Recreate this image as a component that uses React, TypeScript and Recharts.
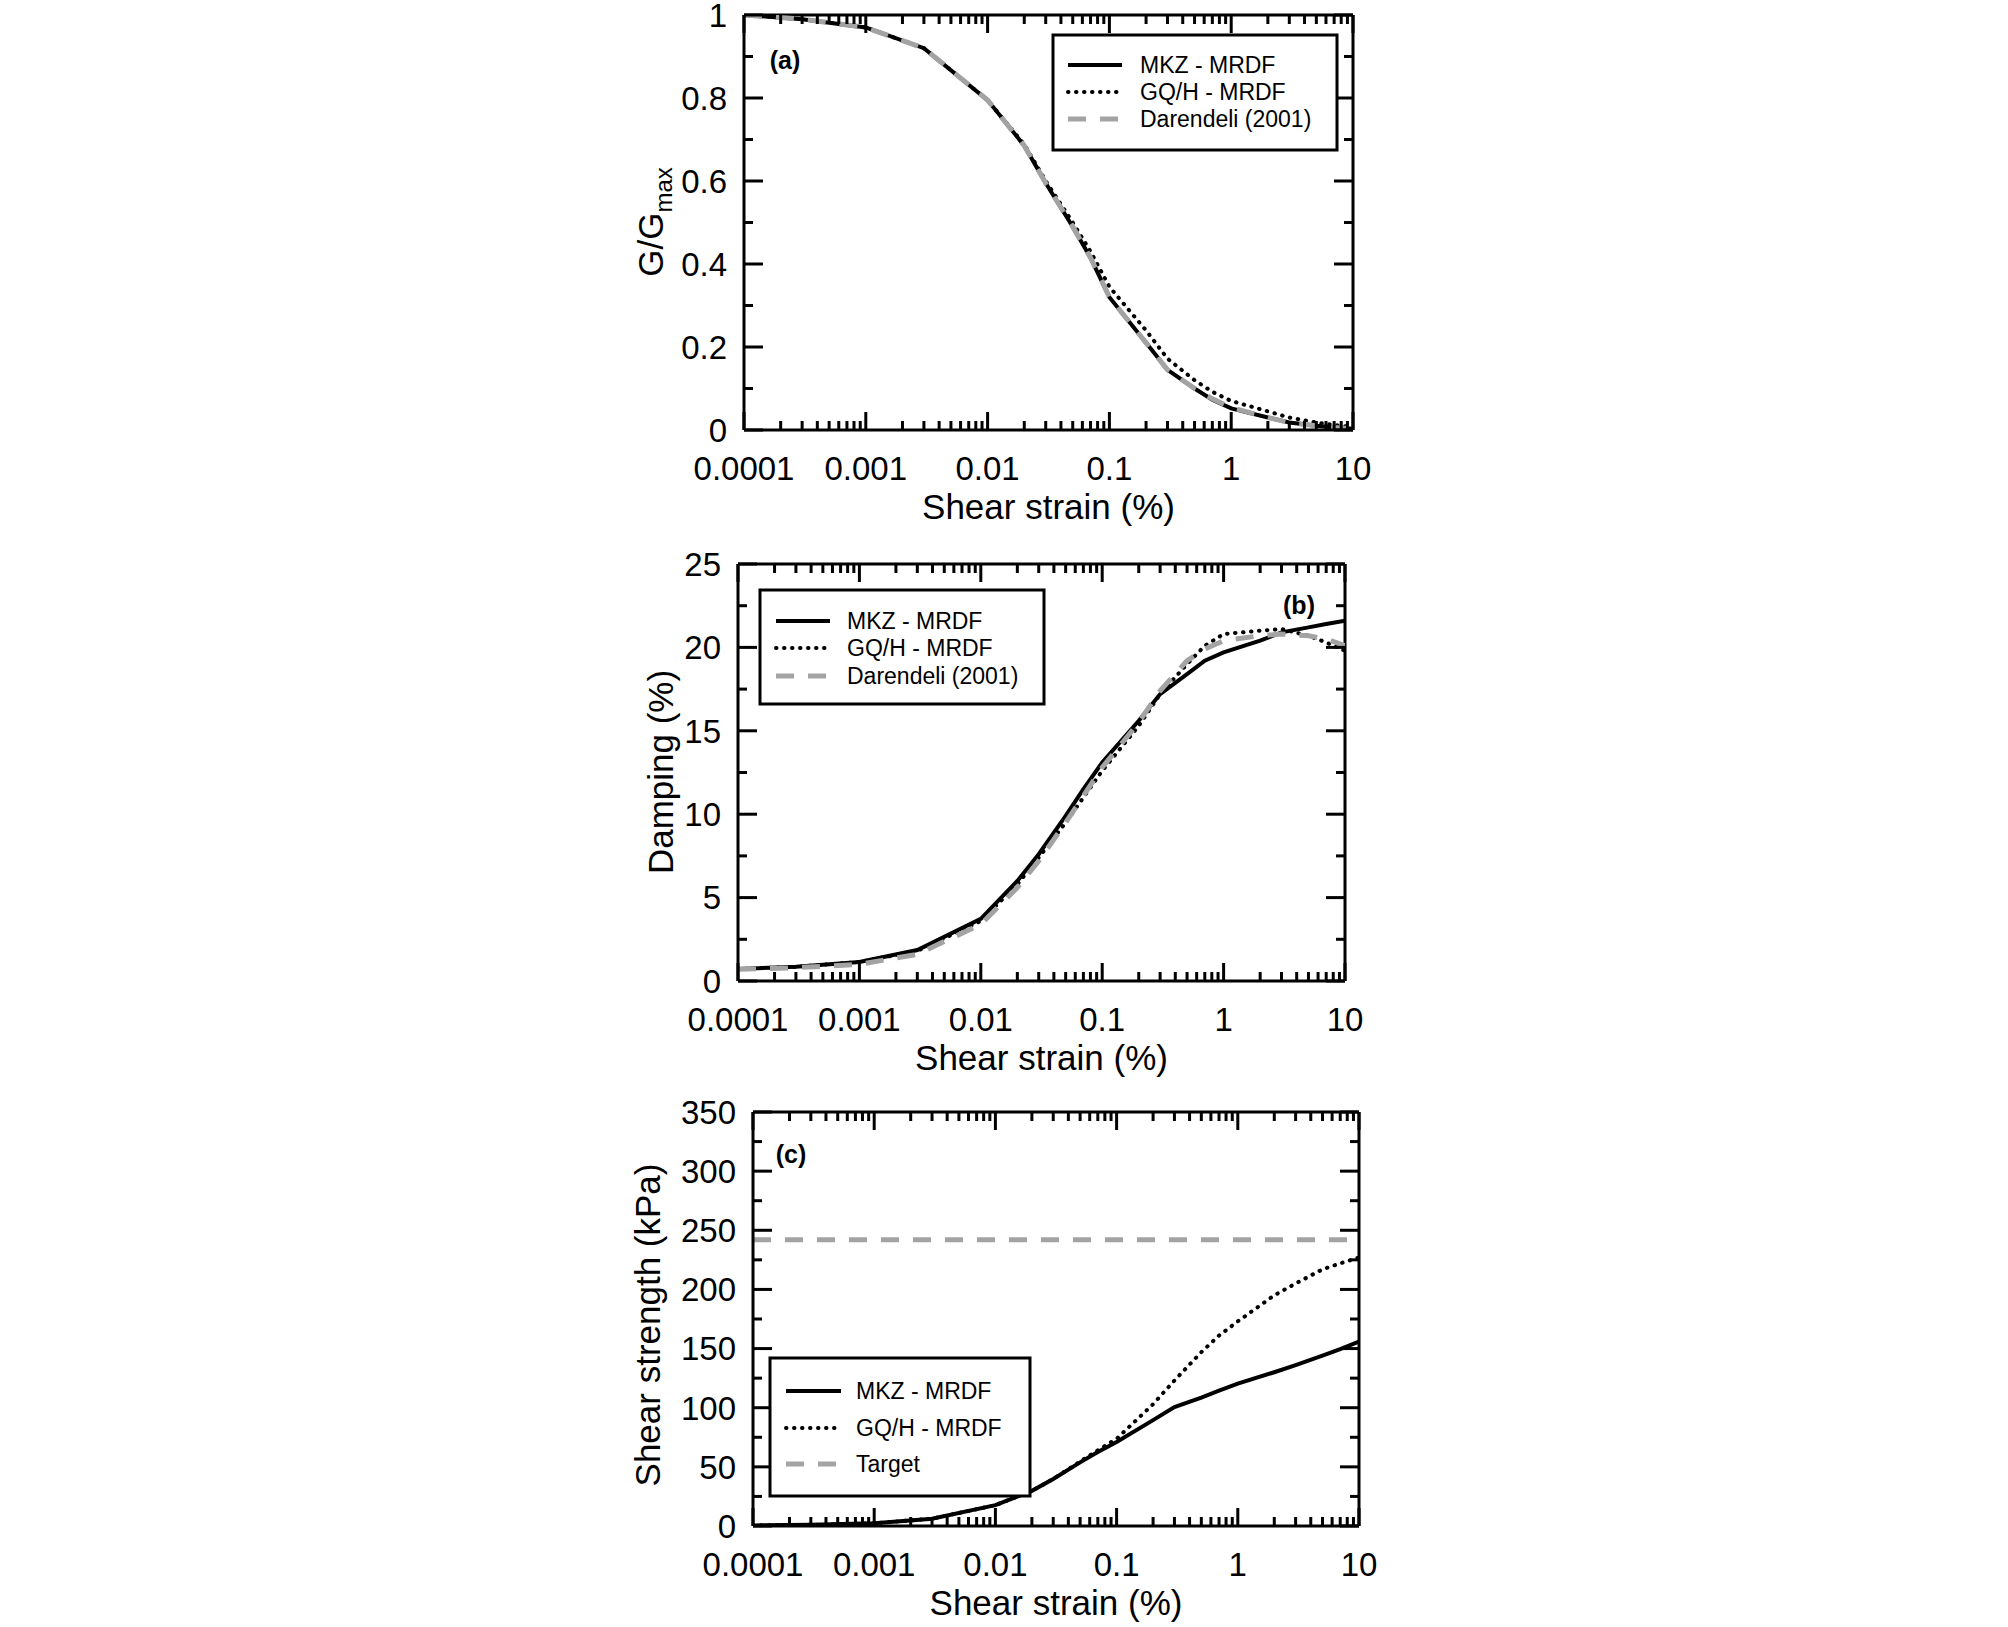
import React from 'react';
import { LineChart, Line, XAxis, YAxis, ReferenceLine } from 'recharts';

// shear strain (%) grid shared by every curve
const STRAIN = [0.0001, 0.0003, 0.001, 0.003, 0.01, 0.02, 0.03, 0.05, 0.07, 0.1, 0.2, 0.3, 0.5, 0.7, 1, 2, 3, 5, 7, 10];

// (a) G/Gmax
const GG_MKZ = [1.0, 0.99, 0.97, 0.92, 0.795, 0.685, 0.595, 0.49, 0.415, 0.32, 0.21, 0.145, 0.1, 0.073, 0.052, 0.03, 0.018, 0.01, 0.006, 0.003];
const GG_GQH = [1.0, 0.99, 0.97, 0.92, 0.795, 0.688, 0.6, 0.5, 0.43, 0.345, 0.24, 0.172, 0.12, 0.092, 0.07, 0.045, 0.03, 0.018, 0.012, 0.007];
const GG_DAR = [1.0, 0.99, 0.97, 0.92, 0.795, 0.685, 0.595, 0.49, 0.415, 0.32, 0.21, 0.145, 0.1, 0.075, 0.054, 0.03, 0.018, 0.01, 0.006, 0.003];

// (b) damping (%)
const DAMP_MKZ = [0.72, 0.85, 1.14, 1.86, 3.73, 6.0, 7.6, 9.9, 11.5, 13.1, 15.6, 17.2, 18.4, 19.2, 19.7, 20.4, 20.9, 21.2, 21.4, 21.6];
const DAMP_GQH = [0.72, 0.85, 1.14, 1.8, 3.6, 5.8, 7.4, 9.5, 11.0, 12.6, 15.3, 17.2, 19.0, 20.1, 20.8, 21.0, 21.1, 20.7, 20.3, 19.8];
const DAMP_DAR = [0.7, 0.8, 1.0, 1.6, 3.4, 5.6, 7.2, 9.5, 11.1, 12.8, 15.5, 17.4, 19.2, 19.9, 20.4, 20.7, 20.8, 20.7, 20.5, 20.1];

// (c) shear strength (kPa)
const TAU_MKZ = [0.5, 1.0, 2.3, 6.2, 17.6, 29.7, 39.7, 53.8, 62.5, 71, 89.5, 100.6, 108.5, 114.5, 120.4, 130, 136, 144, 149.5, 155.8];
const TAU_GQH = [0.5, 1.0, 2.3, 6.2, 17.6, 29.7, 39.7, 54.5, 64, 73.7, 103, 123, 147, 161, 173, 195, 205, 217, 222, 227];
const TAU_TARGET = 242;

const X_MAJOR = [0.0001, 0.001, 0.01, 0.1, 1, 10];
const X_LABELS = ['0.0001', '0.001', '0.01', '0.1', '1', '10'];

const GG_TICKS = [0, 0.1, 0.2, 0.3, 0.4, 0.5, 0.6, 0.7, 0.8, 0.9, 1];
const GG_LABELS = ['0', '0.2', '0.4', '0.6', '0.8', '1'];
const DAMP_TICKS = [0, 2.5, 5, 7.5, 10, 12.5, 15, 17.5, 20, 22.5, 25];
const DAMP_LABELS = ['0', '5', '10', '15', '20', '25'];
const TAU_TICKS = [0, 25, 50, 75, 100, 125, 150, 175, 200, 225, 250, 275, 300, 325, 350];
const TAU_LABELS = ['0', '50', '100', '150', '200', '250', '300', '350'];

// log ticks: 1..9 in every decade, plus the last decade
const X_TICKS: number[] = [];
X_MAJOR.slice(0, -1).forEach((d) => {
  for (let m = 1; m <= 9; m++) X_TICKS.push(Number((m * d).toPrecision(6)));
});
X_TICKS.push(10);

const W = 2008;
const H = 1627;
const FONT = '"Liberation Sans", Arial, Helvetica, sans-serif';

const BLACK = '#000';
const GREY = '#a3a3a3';

type Box = { left: number; right: number; top: number; bottom: number };

const BOX_A: Box = { left: 744, right: 1353, top: 15, bottom: 430 };
const BOX_B: Box = { left: 738, right: 1345, top: 564, bottom: 981 };
const BOX_C: Box = { left: 753, right: 1359, top: 1112, bottom: 1526 };

const rowsA = STRAIN.map((x, i) => ({ x, mkz: GG_MKZ[i], gqh: GG_GQH[i], dar: GG_DAR[i] }));
const rowsB = STRAIN.map((x, i) => ({ x, mkz: DAMP_MKZ[i], gqh: DAMP_GQH[i], dar: DAMP_DAR[i] }));
const rowsC = STRAIN.map((x, i) => ({ x, mkz: TAU_MKZ[i], gqh: TAU_GQH[i], tgt: TAU_TARGET }));

const STYLES: Record<string, any> = {
  solid: { stroke: BLACK, strokeWidth: 4 },
  dotted: { stroke: BLACK, strokeWidth: 4, strokeDasharray: '0.5 7.5', strokeLinecap: 'round' },
  dashed: { stroke: GREY, strokeWidth: 5, strokeDasharray: '18 14' },
};

const isDecade = (v: number) => Math.abs(Math.log10(v) - Math.round(Math.log10(v))) < 1e-6;

const XTick = (props: any) => {
  const { x, payload, box } = props;
  const v = payload.value;
  const major = isDecade(v);
  const len = major ? 18 : 9;
  const li = X_MAJOR.findIndex((m) => Math.abs(m - v) / m < 1e-6);
  return (
    <g>
      <line x1={x} x2={x} y1={box.bottom} y2={box.bottom - len} stroke={BLACK} strokeWidth={3} />
      <line x1={x} x2={x} y1={box.top} y2={box.top + len} stroke={BLACK} strokeWidth={3} />
      {major && li >= 0 && (
        <text x={x} y={box.bottom + 50} textAnchor="middle" fontSize={33} fontFamily={FONT} fill={BLACK}>
          {X_LABELS[li]}
        </text>
      )}
    </g>
  );
};

const YTick = (props: any) => {
  const { y, index, box, labels } = props;
  const major = index % 2 === 0;
  const len = major ? 19 : 9;
  return (
    <g>
      <line x1={box.left} x2={box.left + len} y1={y} y2={y} stroke={BLACK} strokeWidth={3} />
      <line x1={box.right} x2={box.right - len} y1={y} y2={y} stroke={BLACK} strokeWidth={3} />
      {major && (
        <text x={box.left - 17} y={y} dy="0.36em" textAnchor="end" fontSize={33} fontFamily={FONT} fill={BLACK}>
          {labels[index / 2]}
        </text>
      )}
    </g>
  );
};

type Series = { key: string; style: string };

function Panel({ box, rows, series, yTicks, yLabels, yMax }: { box: Box; rows: any[]; series: Series[]; yTicks: number[]; yLabels: string[]; yMax: number }) {
  const YW = 100;
  const XH = 60;
  return (
    <div style={{ position: 'absolute', left: 0, top: 0 }}>
      <LineChart
        width={W}
        height={H}
        data={rows}
        margin={{ top: box.top, right: W - box.right, bottom: H - box.bottom - XH, left: box.left - YW }}
      >
        <XAxis
          dataKey="x"
          type="number"
          scale="log"
          domain={[0.0001, 10]}
          allowDataOverflow
          ticks={X_TICKS}
          interval={0}
          height={XH}
          tickSize={0}
          tickMargin={0}
          tickLine={false}
          axisLine={{ stroke: BLACK, strokeWidth: 3 }}
          tick={(p: any) => <XTick {...p} box={box} />}
        />
        <YAxis
          type="number"
          domain={[0, yMax]}
          allowDataOverflow
          ticks={yTicks}
          interval={0}
          width={YW}
          tickSize={0}
          tickMargin={0}
          tickLine={false}
          axisLine={{ stroke: BLACK, strokeWidth: 3 }}
          tick={(p: any) => <YTick {...p} box={box} labels={yLabels} />}
        />
        <ReferenceLine y={yMax} stroke={BLACK} strokeWidth={3} ifOverflow="visible" />
        <ReferenceLine x={10} stroke={BLACK} strokeWidth={3} ifOverflow="visible" />
        {series.map((s) => (
          <Line
            key={s.key}
            dataKey={s.key}
            type="linear"
            dot={false}
            activeDot={false}
            isAnimationActive={false}
            {...STYLES[s.style]}
          />
        ))}
      </LineChart>
    </div>
  );
}

type LegendItem = { label: string; style: string };

function LegendBox({ x, y, w, h, rows, lineX, textX, items }: { x: number; y: number; w: number; h: number; rows: number[]; lineX: [number, number]; textX: number; items: LegendItem[] }) {
  return (
    <g>
      <rect x={x} y={y} width={w} height={h} fill="#fff" stroke={BLACK} strokeWidth={3} />
      {items.map((it, i) => (
        <g key={it.label}>
          <line x1={x + lineX[0]} x2={x + lineX[1]} y1={y + rows[i]} y2={y + rows[i]} {...STYLES[it.style]} />
          <text x={x + textX} y={y + rows[i] + 8} fontSize={23} fontFamily={FONT} fill={BLACK}>
            {it.label}
          </text>
        </g>
      ))}
    </g>
  );
}

const ITEMS_AB: LegendItem[] = [
  { label: 'MKZ - MRDF', style: 'solid' },
  { label: 'GQ/H - MRDF', style: 'dotted' },
  { label: 'Darendeli (2001)', style: 'dashed' },
];
const ITEMS_C: LegendItem[] = [
  { label: 'MKZ - MRDF', style: 'solid' },
  { label: 'GQ/H - MRDF', style: 'dotted' },
  { label: 'Target', style: 'dashed' },
];

const XTitle = ({ box }: { box: Box }) => (
  <text x={(box.left + box.right) / 2} y={box.bottom + 89} textAnchor="middle" fontSize={35} fontFamily={FONT} fill={BLACK}>
    Shear strain (%)
  </text>
);

export default function App() {
  const seriesAB: Series[] = [
    { key: 'mkz', style: 'solid' },
    { key: 'gqh', style: 'dotted' },
    { key: 'dar', style: 'dashed' },
  ];
  const seriesC: Series[] = [
    { key: 'tgt', style: 'dashed' },
    { key: 'mkz', style: 'solid' },
    { key: 'gqh', style: 'dotted' },
  ];
  return (
    <div style={{ position: 'absolute', left: 0, top: 0, width: W, height: H, background: '#fff', fontFamily: FONT }}>
      <Panel box={BOX_A} rows={rowsA} series={seriesAB} yTicks={GG_TICKS} yLabels={GG_LABELS} yMax={1} />
      <Panel box={BOX_B} rows={rowsB} series={seriesAB} yTicks={DAMP_TICKS} yLabels={DAMP_LABELS} yMax={25} />
      <Panel box={BOX_C} rows={rowsC} series={seriesC} yTicks={TAU_TICKS} yLabels={TAU_LABELS} yMax={350} />
      <svg width={W} height={H} style={{ position: 'absolute', left: 0, top: 0, pointerEvents: 'none' }}>
        <XTitle box={BOX_A} />
        <XTitle box={BOX_B} />
        <XTitle box={BOX_C} />

        <text transform="translate(663,222) rotate(-90)" textAnchor="middle" fontSize={35} fontFamily={FONT} fill={BLACK}>
          G/G<tspan fontSize={24} dy={9}>max</tspan>
        </text>
        <text transform="translate(673,772) rotate(-90)" textAnchor="middle" fontSize={35} fontFamily={FONT} fill={BLACK}>
          Damping (%)
        </text>
        <text transform="translate(660,1325) rotate(-90)" textAnchor="middle" fontSize={35} fontFamily={FONT} fill={BLACK}>
          Shear strength (kPa)
        </text>

        <text x={785} y={69} textAnchor="middle" fontSize={25} fontWeight="bold" fontFamily={FONT} fill={BLACK}>(a)</text>
        <text x={1299} y={614} textAnchor="middle" fontSize={25} fontWeight="bold" fontFamily={FONT} fill={BLACK}>(b)</text>
        <text x={791} y={1163} textAnchor="middle" fontSize={25} fontWeight="bold" fontFamily={FONT} fill={BLACK}>(c)</text>

        <LegendBox x={1053} y={35} w={284} h={115} rows={[30, 57, 84]} lineX={[15, 69]} textX={87} items={ITEMS_AB} />
        <LegendBox x={760} y={590} w={284} h={114} rows={[31, 58, 86]} lineX={[16, 70]} textX={87} items={ITEMS_AB} />
        <LegendBox x={770} y={1358} w={260} h={138} rows={[33, 70, 106]} lineX={[16, 71]} textX={86} items={ITEMS_C} />
      </svg>
    </div>
  );
}
